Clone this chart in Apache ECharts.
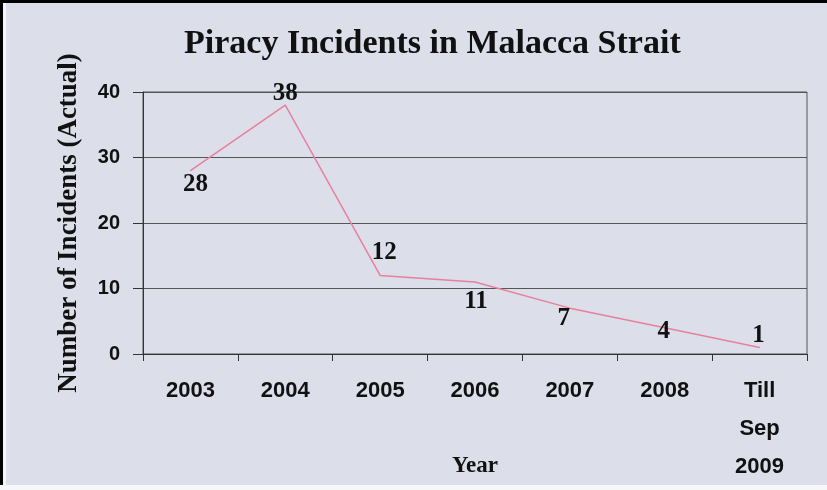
<!DOCTYPE html>
<html>
<head>
<meta charset="utf-8">
<script src="https://cdn.jsdelivr.net/npm/echarts@6/dist/echarts.min.js"></script>
<style>
  html, body { margin: 0; padding: 0; background: #000; }
  #chart { width: 827px; height: 490px; }
</style>
</head>
<body>
<div id="chart"></div>
<script>
// data
const years = ['2003', '2004', '2005', '2006', '2007', '2008', 'Till\nSep\n2009']
const incidents = [28, 38, 12, 11, 7, 4, 1]
const yTicks = [0, 10, 20, 30, 40]

// where each value label sits relative to its point (px)
const labelOffsets = [[5, 14], [0, -12], [4, -23], [1, 20], [-6, 10], [-1, 4], [-1, -12]]

const serif = '"Liberation Serif", "Times New Roman", serif'
const sans = '"Liberation Sans", Arial, sans-serif'

const chart = echarts.init(document.getElementById('chart'))

chart.setOption({
  backgroundColor: '#dcdeea',
  animation: false,
  title: {
    text: 'Piracy Incidents in Malacca Strait',
    left: 179,
    top: 22,
    textStyle: { fontFamily: serif, fontSize: 34, fontWeight: 'bold', color: '#111' },
  },
  grid: {
    left: 143, right: 20, top: 92, bottom: 136,
    outerBoundsMode: 'none',
    containLabel: false,
    show: true,
    borderColor: '#555',
    borderWidth: 1,
    backgroundColor: 'transparent',
  },
  xAxis: {
    type: 'category',
    data: years,
    boundaryGap: true,
    name: 'Year',
    nameLocation: 'middle',
    nameGap: 101,
    nameMoveOverlap: false,
    nameTextStyle: { fontFamily: serif, fontSize: 23, fontWeight: 'bold', color: '#111' },
    axisLine: { lineStyle: { color: '#333', width: 1 } },
    axisTick: { show: true, length: 7, lineStyle: { color: '#333' } },
    axisLabel: {
      fontFamily: sans, fontSize: 22, fontWeight: 'bold', color: '#111',
      lineHeight: 38, margin: 18, interval: 0,
    },
  },
  yAxis: {
    type: 'value',
    min: yTicks[0],
    max: yTicks[yTicks.length - 1],
    interval: 10,
    name: 'Number of Incidents (Actual)',
    nameLocation: 'middle',
    nameGap: 60,
    nameMoveOverlap: false,
    nameTextStyle: { fontFamily: serif, fontSize: 27, fontWeight: 'bold', color: '#111' },
    axisLine: { show: true, lineStyle: { color: '#333', width: 1 } },
    axisTick: { show: true, length: 10, lineStyle: { color: '#333' } },
    axisLabel: { fontFamily: sans, fontSize: 20, fontWeight: 'bold', color: '#111', margin: 23 },
    splitLine: { show: true, lineStyle: { color: '#555', width: 1 } },
  },
  series: [{
    type: 'line',
    data: incidents.map((v, i) => ({
      value: v,
      label: { offset: labelOffsets[i] },
    })),
    symbol: 'circle',
    symbolSize: 1,
    showSymbol: true,
    itemStyle: { color: '#e8809c' },
    lineStyle: { color: '#e8809c', width: 1.5 },
    label: {
      show: true,
      position: 'inside',
      fontFamily: serif,
      fontSize: 25,
      fontWeight: 'bold',
      color: '#111',
    },
  }],
  graphic: [
    { type: 'rect', left: 0, top: 0, shape: { width: 3, height: 490 }, style: { fill: '#000' }, silent: true },
    { type: 'rect', left: 0, top: 0, shape: { width: 827, height: 3 }, style: { fill: '#000' }, silent: true },
    { type: 'rect', left: 3, top: 3, shape: { width: 3, height: 487 }, style: { fill: '#f4f4f8' }, silent: true },
    { type: 'rect', left: 0, top: 485, shape: { width: 827, height: 5 }, style: { fill: '#f7f7fa' }, silent: true },
  ],
})
</script>
</body>
</html>
